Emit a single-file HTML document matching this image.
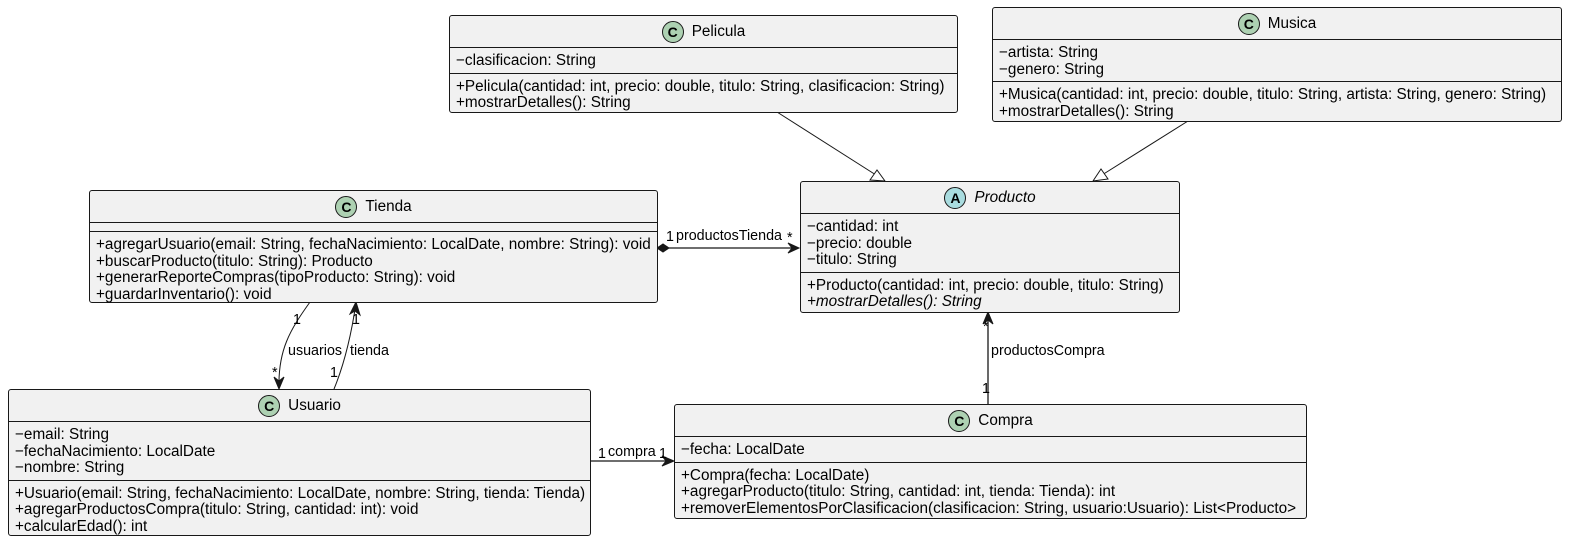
<!DOCTYPE html>
<html><head><meta charset="utf-8"><style>
body{margin:0;width:1572px;height:542px;background:#fff;position:relative;overflow:hidden;font-family:"Liberation Sans",sans-serif;font-size:15.3px;color:#000}
.b{position:absolute;background:#f1f1f1;border:1px solid #181818;border-radius:3px;box-sizing:border-box}
.h{height:31px;display:flex;align-items:center;justify-content:center;gap:8px;font-size:15.3px}
.i{width:22px;height:22px;border-radius:50%;border:1px solid #181818;background:#add1b2;font-weight:bold;font-size:14px;display:flex;align-items:center;justify-content:center;box-sizing:border-box}
.s{border-top:1px solid #181818;padding:5px 0 3px 6px;line-height:16.5px;white-space:nowrap}
.e{height:8px;padding:0}
.it{font-style:italic}
svg{position:absolute;left:0;top:0}
.l{position:absolute;font-size:14.3px;white-space:nowrap;line-height:14px}
</style></head><body>
<svg width="1572" height="542" fill="none" stroke="#181818" stroke-width="1">
<line x1="777" y1="112" x2="876" y2="175"/>
<polygon points="885,181 870,180 877,170" fill="#fff"/>
<line x1="1188" y1="121" x2="1102" y2="175"/>
<polygon points="1093,181 1101,169 1108,179" fill="#fff"/>
<line x1="669" y1="248" x2="798" y2="248" stroke-width="1.3"/>
<polygon points="657,248 663,244 669,248 663,252" fill="#181818"/>
<polygon points="788,243 799,248 788,253 792,248" fill="#181818"/>
<path d="M310 302 C290 330 278 350 279 388"/>
<polygon points="274,377 279,389 284,377 279,381" fill="#181818"/>
<path d="M334 389 C346 360 352 330 356 303"/>
<polygon points="350,314 356,302 360,315 355,311" fill="#181818"/>
<line x1="988" y1="404" x2="988" y2="313" stroke-width="1.3"/>
<polygon points="983,324 988,312 993,324 988,320" fill="#181818"/>
<line x1="590" y1="461" x2="673" y2="461" stroke-width="1.3"/>
<polygon points="662,456 674,461 662,466 666,461" fill="#181818"/>
</svg>

<div class="l" style="left:666px;top:230px">1</div>
<div class="l" style="left:676px;top:229px">productosTienda</div>
<div class="l" style="left:787px;top:231px">*</div>
<div class="l" style="left:293px;top:313px">1</div>
<div class="l" style="left:288px;top:344px">usuarios</div>
<div class="l" style="left:272px;top:366px">*</div>
<div class="l" style="left:352px;top:313px">1</div>
<div class="l" style="left:350px;top:344px">tienda</div>
<div class="l" style="left:330px;top:366px">1</div>
<div class="l" style="left:983px;top:320px">*</div>
<div class="l" style="left:991px;top:344px">productosCompra</div>
<div class="l" style="left:982px;top:382px">1</div>
<div class="l" style="left:598px;top:447px">1</div>
<div class="l" style="left:608px;top:445px">compra</div>
<div class="l" style="left:659px;top:447px">1</div>

<div class="b" style="left:449px;top:15px;width:509px;height:98px">
<div class="h"><span class="i">C</span>Pelicula</div>
<div class="s">−clasificacion: String</div>
<div class="s">+Pelicula(cantidad: int, precio: double, titulo: String, clasificacion: String)<br>+mostrarDetalles(): String</div>
</div>

<div class="b" style="left:992px;top:7px;width:570px;height:115px">
<div class="h"><span class="i">C</span>Musica</div>
<div class="s">−artista: String<br>−genero: String</div>
<div class="s">+Musica(cantidad: int, precio: double, titulo: String, artista: String, genero: String)<br>+mostrarDetalles(): String</div>
</div>

<div class="b" style="left:89px;top:190px;width:569px;height:113px">
<div class="h"><span class="i">C</span>Tienda</div>
<div class="s e"></div>
<div class="s">+agregarUsuario(email: String, fechaNacimiento: LocalDate, nombre: String): void<br>+buscarProducto(titulo: String): Producto<br>+generarReporteCompras(tipoProducto: String): void<br>+guardarInventario(): void</div>
</div>

<div class="b" style="left:800px;top:181px;width:380px;height:132px">
<div class="h"><span class="i" style="background:#a9dcdf">A</span><span class="it">Producto</span></div>
<div class="s">−cantidad: int<br>−precio: double<br>−titulo: String</div>
<div class="s">+Producto(cantidad: int, precio: double, titulo: String)<br><span class="it">+mostrarDetalles(): String</span></div>
</div>

<div class="b" style="left:8px;top:389px;width:583px;height:147px">
<div class="h"><span class="i">C</span>Usuario</div>
<div class="s">−email: String<br>−fechaNacimiento: LocalDate<br>−nombre: String</div>
<div class="s">+Usuario(email: String, fechaNacimiento: LocalDate, nombre: String, tienda: Tienda)<br>+agregarProductosCompra(titulo: String, cantidad: int): void<br>+calcularEdad(): int</div>
</div>

<div class="b" style="left:674px;top:404px;width:633px;height:115px">
<div class="h"><span class="i">C</span>Compra</div>
<div class="s">−fecha: LocalDate</div>
<div class="s">+Compra(fecha: LocalDate)<br>+agregarProducto(titulo: String, cantidad: int, tienda: Tienda): int<br>+removerElementosPorClasificacion(clasificacion: String, usuario:Usuario): List&lt;Producto&gt;</div>
</div>
</body></html>
